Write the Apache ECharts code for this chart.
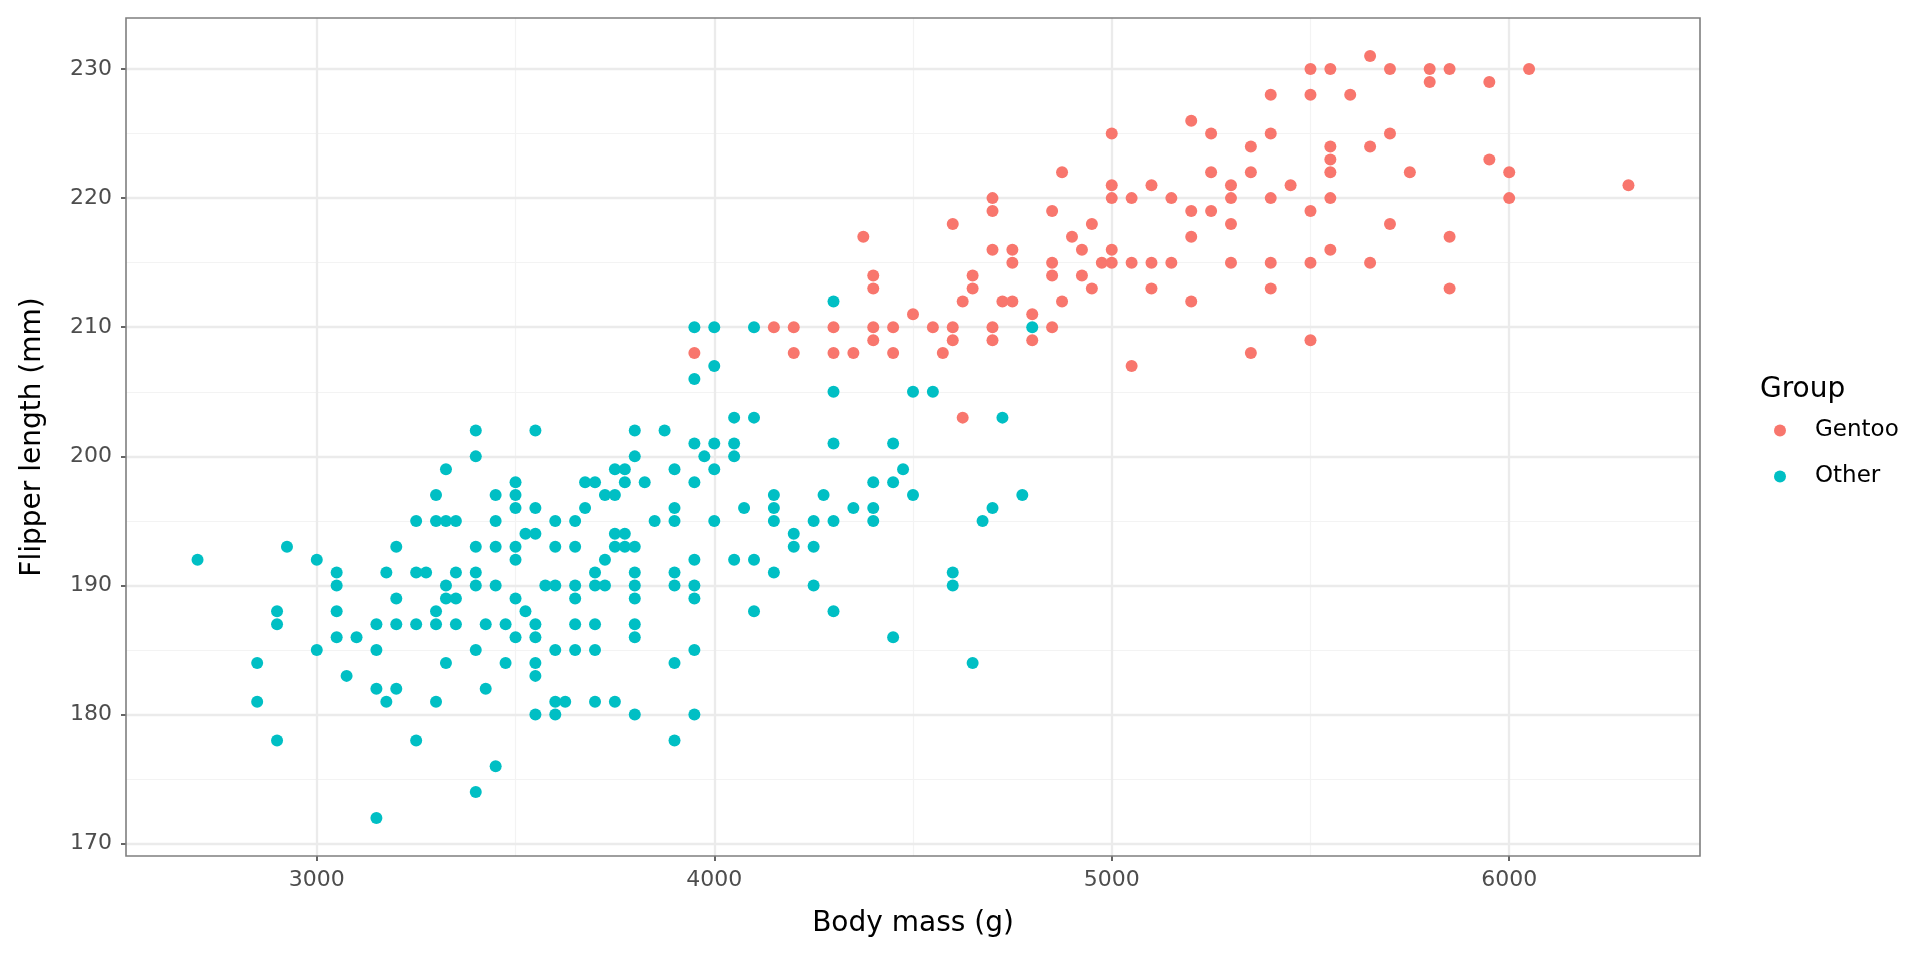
<!DOCTYPE html>
<html>
<head>
<meta charset="utf-8">
<title>Flipper length vs body mass</title>
<script src="https://cdn.jsdelivr.net/npm/echarts@6.0.0/dist/echarts.min.js"></script>
<style>
  html, body { margin: 0; padding: 0; background: #ffffff; }
  #chart { width: 1920px; height: 960px; }
</style>
</head>
<body>
<div id="chart"></div>
<script>
// ----- Data -----
// Gentoo: body mass (g) and flipper length (mm), same order
const gentooMass = [
  4150, 4200, 3950, 4200,
  4400, 4400, 4650, 4650, 4625, 4725, 4750, 4500, 4800, 4300, 4400, 4450, 4550, 4600, 4700, 4400,
  4600, 4700, 4800, 4300, 4350, 4450, 4575, 4625,
  4700, 4700, 4600, 4375, 4700, 4750, 4750,
  5500, 5550, 5400, 5500, 5200, 5000, 5250, 5400, 5350, 5550, 5550, 4875, 5250, 5350, 5550, 5000,
  5100, 5300, 5450, 5000, 5050, 5150, 5300, 5400, 5550, 4850, 5200, 5250, 5500, 4950, 5300, 4900,
  5200, 4925, 5000, 5550, 4850, 4975, 5000, 5050, 5100, 5150, 5300, 5400, 5500, 4850, 4925, 4950,
  5100, 5400, 4875, 5200, 4850, 5500, 5350, 5050,
  5650, 5700, 5800, 5850, 6050, 5800, 5950, 5600, 5700, 5650, 5950, 5750, 6000, 6300, 6000, 5700,
  5850, 5650, 5850
];
const gentooFlipper = [
  210, 210, 208, 208,
  214, 213, 214, 213, 212, 212, 212, 211, 211, 210, 210, 210, 210, 210, 210, 209,
  209, 209, 209, 208, 208, 208, 208, 203,
  220, 219, 218, 217, 216, 216, 215,
  230, 230, 228, 228, 226, 225, 225, 225, 224, 224, 223, 222, 222, 222, 222, 221,
  221, 221, 221, 220, 220, 220, 220, 220, 220, 219, 219, 219, 219, 218, 218, 217,
  217, 216, 216, 216, 215, 215, 215, 215, 215, 215, 215, 215, 215, 214, 214, 213,
  213, 213, 212, 212, 210, 209, 208, 207,
  231, 230, 230, 230, 230, 229, 229, 228, 225, 224, 223, 222, 222, 221, 220, 218,
  217, 215, 213
];

// Other (Adelie + Chinstrap)
const otherMass = [
  2700, 2925, 3000, 3050, 3050, 2900, 2900, 3050, 3050, 3100, 3000,
  3400, 3550, 3400, 3325, 3500, 3675, 3300, 3450, 3500, 3500, 3550, 3675, 3250, 3300, 3325, 3350,
  3450, 3600, 3650, 3525, 3550, 3200, 3400, 3450, 3500, 3600, 3650, 3500, 3175, 3250, 3275, 3350,
  3400, 3325, 3400, 3450, 3575, 3600, 3650, 3200, 3325, 3350, 3500, 3650, 3300, 3525, 3150, 3200,
  3250, 3300, 3350, 3425, 3475, 3550, 3650, 3500, 3550, 3150, 3400, 3600, 3650,
  3700, 2850, 3325, 3475, 3550, 3075, 3550, 3150, 3200, 3425, 2850, 3175, 3300, 3600, 3625, 3700,
  3550, 3600, 2900, 3250, 3450, 3400, 3150,
  3950, 4000, 4100, 4000, 3950, 4050, 4100, 3800, 3875, 3950, 4000, 4050, 3975, 4050, 3800, 3750,
  3775, 3900, 4000, 3700, 3775, 3825, 3950, 3725, 3750, 4150, 3900, 4075, 4150, 3850, 3900, 4000,
  4150, 4250, 3750, 3775, 4200, 3750, 3775, 3800, 4200, 4250, 3725, 3950, 4050, 4100, 3700, 3800,
  3900, 4150, 3700, 3725, 3800, 3900, 3950, 4250, 3800, 3950, 4100, 3700, 3800, 3800, 3950, 3900,
  3750, 3800, 3950,
  4800, 4300, 4300, 4500, 4550, 4725, 4300, 4450, 4475, 4400, 4450, 4275, 4500, 4775, 4350, 4400,
  4700, 4300, 4400, 4675, 4600, 4600, 4300, 4450, 4650,
  3900
];
const otherFlipper = [
  192, 193, 192, 191, 190, 188, 187, 188, 186, 186, 185,
  202, 202, 200, 199, 198, 198, 197, 197, 197, 196, 196, 196, 195, 195, 195, 195,
  195, 195, 195, 194, 194, 193, 193, 193, 193, 193, 193, 192, 191, 191, 191, 191,
  191, 190, 190, 190, 190, 190, 190, 189, 189, 189, 189, 189, 188, 188, 187, 187,
  187, 187, 187, 187, 187, 187, 187, 186, 186, 185, 185, 185, 185,
  185, 184, 184, 184, 184, 183, 183, 182, 182, 182, 181, 181, 181, 181, 181, 181,
  180, 180, 178, 178, 176, 174, 172,
  210, 210, 210, 207, 206, 203, 203, 202, 202, 201, 201, 201, 200, 200, 200, 199,
  199, 199, 199, 198, 198, 198, 198, 197, 197, 197, 196, 196, 196, 195, 195, 195,
  195, 195, 194, 194, 194, 193, 193, 193, 193, 193, 192, 192, 192, 192, 191, 191,
  191, 191, 190, 190, 190, 190, 190, 190, 189, 189, 188, 187, 187, 186, 185, 184,
  181, 180, 180,
  210, 212, 205, 205, 205, 203, 201, 201, 199, 198, 198, 197, 197, 197, 196, 196,
  196, 195, 195, 195, 191, 190, 188, 186, 184,
  178
];

// Axis ticks and grid lines
const xTicks = [3000, 4000, 5000, 6000];
const xMinor = [3500, 4500, 5500];
const yTicks = [170, 180, 190, 200, 210, 220, 230];
const yMinor = [175, 185, 195, 205, 215, 225];

const groups = ['Gentoo', 'Other'];
const groupColors = ['#F8766D', '#00BFC4'];

// ----- Helpers -----
function zip(xs, ys) {
  return xs.map((x, i) => [x, ys[i]]);
}

const FONT = 'DejaVu Sans';
const MAJOR = { color: '#EBEBEB', width: 2.3, type: 'solid' };
const MINOR = { color: '#F3F3F3', width: 1.2, type: 'solid' };

// grid lines go under the points (markLine z below the scatter z)
const gridLines = [].concat(
  xMinor.map(v => ({ xAxis: v, lineStyle: MINOR })),
  yMinor.map(v => ({ yAxis: v, lineStyle: MINOR })),
  xTicks.map(v => ({ xAxis: v, lineStyle: MAJOR })),
  yTicks.map(v => ({ yAxis: v, lineStyle: MAJOR }))
);

// ----- Chart -----
const chart = echarts.init(document.getElementById('chart'));

chart.setOption({
  backgroundColor: '#ffffff',
  animation: false,
  textStyle: { fontFamily: FONT },
  title: {
    text: 'Group',
    left: 1760,
    top: 376,
    padding: 0,
    textStyle: { fontFamily: FONT, fontSize: 28, fontWeight: 'normal', color: '#000000' }
  },
  legend: {
    data: groups,
    orient: 'vertical',
    left: 1774,
    top: 419,
    padding: 0,
    icon: 'circle',
    itemWidth: 60,
    itemHeight: 12,
    itemGap: 23,
    textStyle: { fontFamily: FONT, fontSize: 23, color: '#000000' }
  },
  grid: {
    left: 126,
    right: 220,
    top: 18,
    bottom: 104,
    show: true,
    z: 10,
    backgroundColor: 'transparent',
    borderColor: '#7F7F7F',
    borderWidth: 1.6
  },
  xAxis: {
    type: 'value',
    min: 2520,
    max: 6480,
    name: 'Body mass (g)',
    nameLocation: 'middle',
    nameGap: 54,
    nameTextStyle: { fontFamily: FONT, fontSize: 28, color: '#000000' },
    axisLine: { show: false },
    splitLine: { show: false },
    axisTick: {
      show: true,
      customValues: xTicks,
      length: 5,
      lineStyle: { color: '#333333', width: 1.5 }
    },
    axisLabel: {
      customValues: xTicks,
      margin: 13,
      fontFamily: FONT,
      fontSize: 22,
      color: '#4D4D4D',
      formatter: v => String(v)
    }
  },
  yAxis: {
    type: 'value',
    min: 169.05,
    max: 233.95,
    name: 'Flipper length (mm)',
    nameLocation: 'middle',
    nameGap: 79,
    nameTextStyle: { fontFamily: FONT, fontSize: 28, color: '#000000' },
    axisLine: { show: false },
    splitLine: { show: false },
    axisTick: {
      show: true,
      customValues: yTicks,
      length: 5,
      lineStyle: { color: '#333333', width: 1.5 }
    },
    axisLabel: {
      customValues: yTicks,
      margin: 14,
      fontFamily: FONT,
      fontSize: 22,
      color: '#4D4D4D',
      formatter: v => String(v)
    }
  },
  series: [
    {
      name: 'grid',
      type: 'scatter',
      data: [],
      z: 0,
      silent: true,
      markLine: {
        silent: true,
        z: 1,
        symbol: ['none', 'none'],
        label: { show: false },
        animation: false,
        data: gridLines
      }
    },
    {
      name: groups[0],
      type: 'scatter',
      symbol: 'circle',
      symbolSize: 12,
      z: 3,
      itemStyle: { color: groupColors[0], opacity: 1 },
      data: zip(gentooMass, gentooFlipper)
    },
    {
      name: groups[1],
      type: 'scatter',
      symbol: 'circle',
      symbolSize: 12,
      z: 3,
      itemStyle: { color: groupColors[1], opacity: 1 },
      data: zip(otherMass, otherFlipper)
    }
  ]
});

window.addEventListener('resize', () => chart.resize());
</script>
</body>
</html>
